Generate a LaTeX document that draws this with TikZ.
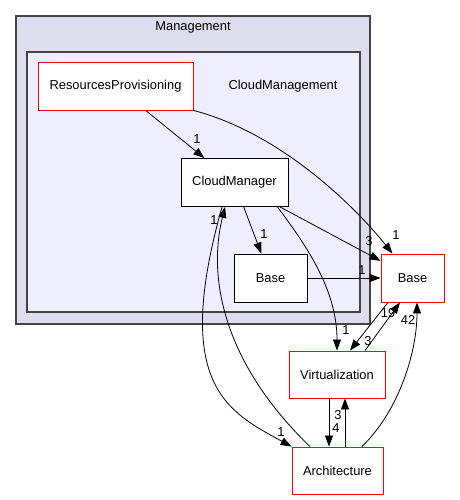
\documentclass[tikz,border=0pt]{standalone}
\usepackage{fontspec}
\setmainfont{Liberation Sans}
\usetikzlibrary{arrows.meta}
\definecolor{outerfill}{HTML}{DDDDEE}
\definecolor{innerfill}{HTML}{EEEEFF}
\definecolor{frame}{HTML}{444444}
\tikzset{
  dir/.style={draw=black, fill=white, line width=0.9pt, minimum height=48pt, inner sep=0pt},
  reddir/.style={dir, draw=red},
  lbl/.style={inner sep=0pt},
  dep/.style={-{Triangle[length=11pt,width=8pt]}, black, line width=0.8pt},
}
\begin{document}
\begin{tikzpicture}[x=1pt, y=-1pt, font=\fontsize{12.9}{15}\selectfont]
  \useasboundingbox (0,0) rectangle (459,500);
  % clusters
  \draw[frame, fill=outerfill, line width=1.2pt] (16,16) rectangle (370,324);
  \draw[frame, fill=innerfill, line width=1.2pt] (27,52) rectangle (360,312);
  \node (mgmt) at (193,27) {Management};
  \node (cloudmgmt) at (283,86) {CloudManagement};
  % directories
  \node[reddir, minimum width=155pt] (rp) at (115.5,86) {ResourcesProvisioning};
  \node[dir, minimum width=107pt] (cm) at (234.5,182.5) {CloudManager};
  \node[dir, minimum width=73pt] (cbase) at (270.5,278) {Base};
  \node[reddir, minimum width=63pt] (base) at (412.5,278) {Base};
  \node[reddir, minimum width=96pt, minimum height=47pt] (virt) at (337,374.5) {Virtualization};
  \node[reddir, minimum width=91pt, minimum height=47pt] (arch) at (337.5,470.5) {Architecture};
  \begin{scope}[dep]
    \draw (rp) -- (cm);
    \draw (rp.south east) .. controls +(85,22) and +(-40,-50) .. ([xshift=-20]base.north);
    \draw (cm) -- (cbase);
    \draw (cm) -- (base);
    \draw ([xshift=43]cm.south) .. controls +(30,40) and +(0,-60) .. (virt.north);
    \draw (cbase) -- (base);
    \draw ([xshift=-12.5]cm.south) .. controls +(-50,178) and +(-64,-35) .. (arch.north west);
    \draw ([xshift=-27.5]arch.north) .. controls +(-85,-82) and +(-18,73) .. ([xshift=-9.5]cm.south);
    \draw ([xshift=28]virt.north) -- ([xshift=-12.5]base.south);
    \draw ([xshift=-24.5]base.south) -- ([xshift=13]virt.north);
    \draw ([xshift=24.5]arch.north) .. controls +(38,-37) and +(0,48) .. ([xshift=4.5]base.south);
    \draw ([xshift=-8]virt.south) -- ([xshift=-8.5]arch.north);
    \draw ([xshift=7.5]arch.north) -- ([xshift=8]virt.south);
  \end{scope}
  % edge counts
  \node[lbl] (l1) at (197,139) {1};
  \node[lbl] (l2) at (396,235) {1};
  \node[lbl] (l3) at (264,234) {1};
  \node[lbl] (l4) at (369,241) {3};
  \node[lbl] (l5) at (346,330) {1};
  \node[lbl] (l6) at (362,270) {1};
  \node[lbl] (l7) at (281,432) {1};
  \node[lbl] (l8) at (214,220) {1};
  \node[lbl] (l9) at (388,313) {19};
  \node[lbl] (l10) at (368,341) {3};
  \node[lbl] (l11) at (408,320) {42};
  \node[lbl] (l12) at (336,428) {4};
  \node[lbl] (l13) at (338,415.5) {3};
\end{tikzpicture}
\end{document}
